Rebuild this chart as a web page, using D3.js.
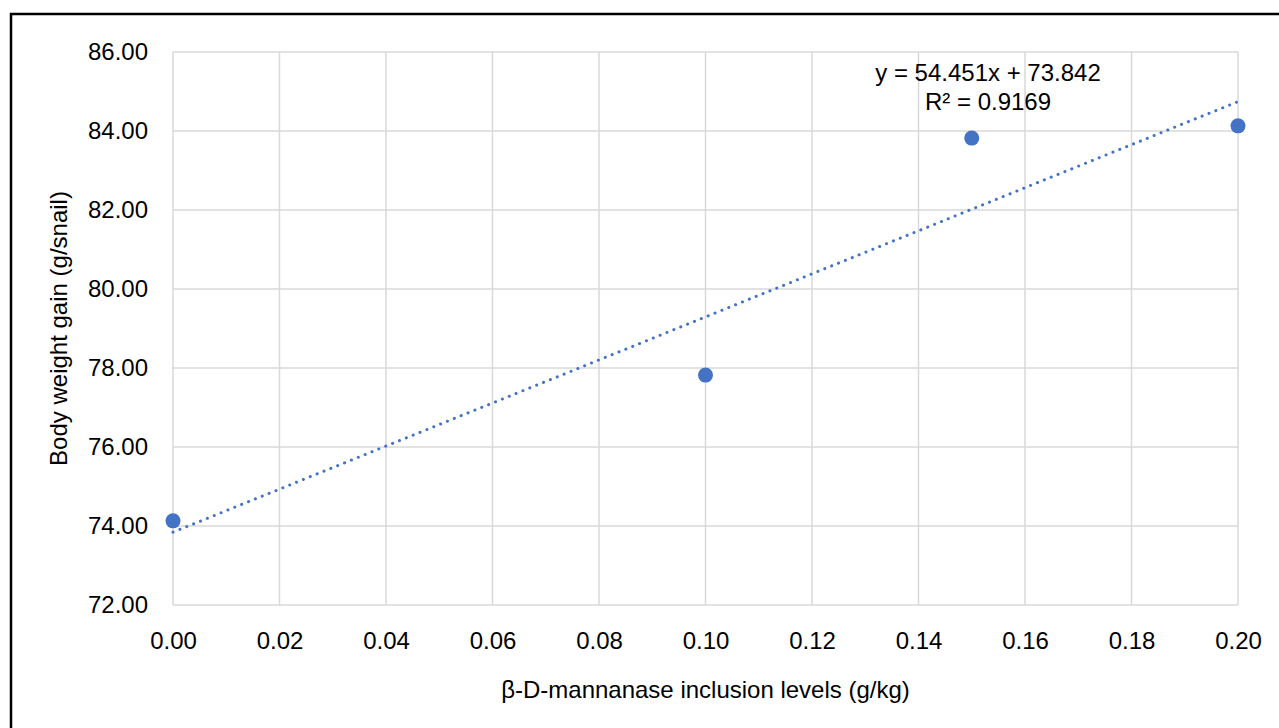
<!DOCTYPE html>
<html>
<head>
<meta charset="utf-8">
<script src="https://cdn.jsdelivr.net/npm/d3@7"></script>
<style>
  body { margin: 0; background: #fff; }
  svg text { font-family: "Liberation Sans", Arial, sans-serif; fill: #000; }
</style>
</head>
<body>
<div id="chart"></div>
<script>
// data
var levels = [0.00, 0.10, 0.15, 0.20];
var gains = [74.13, 77.82, 83.82, 84.13];
var xTicks = [0, 0.02, 0.04, 0.06, 0.08, 0.10, 0.12, 0.14, 0.16, 0.18, 0.20];
var yTicks = [72, 74, 76, 78, 80, 82, 84, 86];
var eqLabel = 'y = 54.451x + 73.842';
var r2Label = 'R² = 0.9169';

var width = 1279, height = 728;
var margin = {left: 173, right: 41, top: 52, bottom: 123};
var fontSize = '24px';

var svg = d3.select('#chart').append('svg')
    .attr('width', width)
    .attr('height', height);

// outer frame (right and bottom edges fall off the picture)
svg.append('rect')
    .attr('x', 11).attr('y', 14)
    .attr('width', width + 10).attr('height', height + 10)
    .attr('fill', 'none')
    .attr('stroke', '#000')
    .attr('stroke-width', 2.5);

var x = d3.scaleLinear().domain([0, 0.2]).range([margin.left, width - margin.right]);
var y = d3.scaleLinear().domain([72, 86]).range([height - margin.bottom, margin.top]);

// gridlines
svg.append('g').selectAll('line.v')
    .data(xTicks)
    .enter().append('line')
    .attr('x1', function(d) { return x(d); })
    .attr('x2', function(d) { return x(d); })
    .attr('y1', y(72)).attr('y2', y(86))
    .attr('stroke', '#d9d9d9').attr('stroke-width', 1.5);

svg.append('g').selectAll('line.h')
    .data(yTicks)
    .enter().append('line')
    .attr('x1', x(0)).attr('x2', x(0.2))
    .attr('y1', function(d) { return y(d); })
    .attr('y2', function(d) { return y(d); })
    .attr('stroke', '#d9d9d9').attr('stroke-width', 1.5);

// axes, tick labels only
var xAxis = svg.append('g')
    .attr('transform', 'translate(0,' + y(72) + ')')
    .call(d3.axisBottom(x).tickValues(xTicks).tickSize(0).tickPadding(27).tickFormat(d3.format('.2f')));
xAxis.select('.domain').remove();
xAxis.selectAll('text').style('font-size', fontSize).attr('fill', '#000');

var yAxis = svg.append('g')
    .attr('transform', 'translate(' + (x(0) - 25) + ',0)')
    .call(d3.axisLeft(y).tickValues(yTicks).tickSize(0).tickPadding(0).tickFormat(d3.format('.2f')));
yAxis.select('.domain').remove();
yAxis.selectAll('text').style('font-size', fontSize).attr('fill', '#000');

// linear trendline from least squares
var n = levels.length;
var mx = d3.mean(levels), my = d3.mean(gains);
var sxy = 0, sxx = 0;
for (var i = 0; i < n; i++) {
    sxy += (levels[i] - mx) * (gains[i] - my);
    sxx += (levels[i] - mx) * (levels[i] - mx);
}
var slope = sxy / sxx;
var intercept = my - slope * mx;

svg.append('line')
    .attr('x1', x(0)).attr('y1', y(intercept))
    .attr('x2', x(0.2)).attr('y2', y(intercept + slope * 0.2))
    .attr('stroke', '#4472c4')
    .attr('stroke-width', 3)
    .attr('stroke-linecap', 'round')
    .attr('stroke-dasharray', '0.1 7.3');

// points
svg.append('g').selectAll('circle')
    .data(levels)
    .enter().append('circle')
    .attr('cx', function(d) { return x(d); })
    .attr('cy', function(d, i) { return y(gains[i]); })
    .attr('r', 7.5)
    .attr('fill', '#4472c4');

// equation label
svg.append('text')
    .attr('x', 988).attr('y', 81)
    .attr('text-anchor', 'middle')
    .style('font-size', fontSize)
    .text(eqLabel);
svg.append('text')
    .attr('x', 988).attr('y', 110)
    .attr('text-anchor', 'middle')
    .style('font-size', fontSize)
    .text(r2Label);

// axis titles
svg.append('text')
    .attr('x', (x(0) + x(0.2)) / 2).attr('y', 698)
    .attr('text-anchor', 'middle')
    .style('font-size', fontSize)
    .text('β-D-mannanase inclusion levels (g/kg)');

svg.append('text')
    .attr('transform', 'translate(67,' + ((y(72) + y(86)) / 2) + ') rotate(-90)')
    .attr('text-anchor', 'middle')
    .style('font-size', fontSize)
    .text('Body weight gain (g/snail)');
</script>
</body>
</html>
